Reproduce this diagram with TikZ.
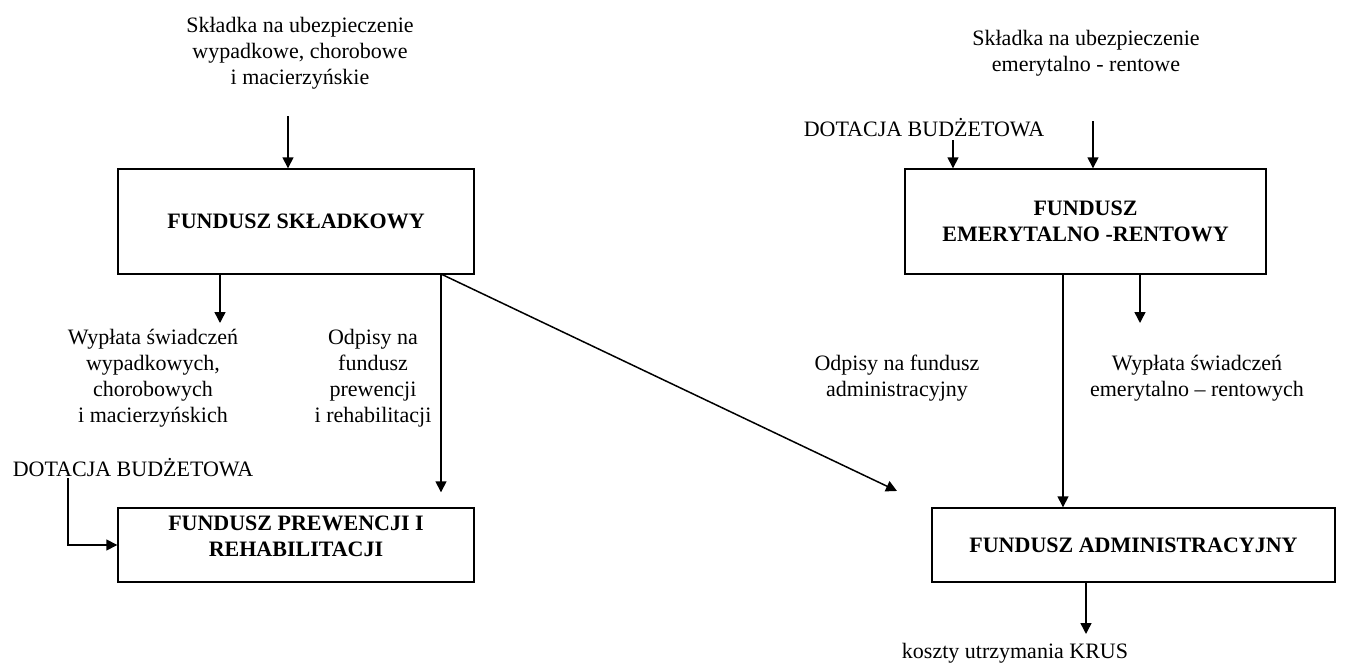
\documentclass[tikz,border=0pt]{standalone}
\usepackage{fontspec}
\setmainfont{Liberation Serif}
\usetikzlibrary{arrows.meta}

\tikzset{
    fundbox/.style={draw, line width=0.7pt, inner sep=0pt, align=center,
        font=\fontsize{11}{13}\selectfont\bfseries},
    opis/.style={inner sep=0pt, align=center, font=\fontsize{11}{13}\selectfont},
    strz/.style={line width=0.75pt, -{Triangle[length=5.5pt,width=5.5pt]}},
}

\begin{document}
\begin{tikzpicture}[x=0.5pt, y=-0.5pt]
            \useasboundingbox (0,0) rectangle (1346,664);

            \node[fundbox, minimum width=178pt, minimum height=52.5pt] (skl) at (296,221.5) {FUNDUSZ SKŁADKOWY};
            \node[fundbox, minimum width=180.5pt, minimum height=52.5pt] (emr) at (1085.5,221.5) {FUNDUSZ\\EMERYTALNO -RENTOWY};
            \node[fundbox, minimum width=178pt, minimum height=37pt,
                label={[fundbox, draw=none, anchor=north, inner sep=4pt]north:{FUNDUSZ PREWENCJI I\\REHABILITACJI}}] (prew) at (296,545) {};
            \node[fundbox, minimum width=201.5pt, minimum height=37pt] (adm) at (1133.5,545) {FUNDUSZ ADMINISTRACYJNY};

            \node[opis] (skl-in) at (300,53) {Składka na ubezpieczenie\\wypadkowe, chorobowe\\i macierzyńskie};
            \node[opis] (emr-in) at (1086,53) {Składka na ubezpieczenie\\emerytalno - rentowe};
            \node[opis] (dot-r) at (924,128) {DOTACJA BUDŻETOWA};
            \node[opis] (dot-l) at (133,468) {DOTACJA BUDŻETOWA};
            \node[opis] (wyp-l) at (153,378) {Wypłata świadczeń\\wypadkowych,\\chorobowych\\i macierzyńskich};
            \node[opis] (odp-l) at (373,378) {Odpisy na\\fundusz\\prewencji\\i rehabilitacji};
            \node[opis] (odp-r) at (897,378) {Odpisy na fundusz\\administracyjny};
            \node[opis] (wyp-r) at (1197,378) {Wypłata świadczeń\\emerytalno – rentowych};
            \node[opis] (krus) at (1015,653) {koszty utrzymania KRUS};

            \coordinate (k1) at (288,116);
            \coordinate (k2) at (220,323);
            \coordinate (k3) at (441,274);
            \coordinate (k4) at (68,478);
            \coordinate (k5) at (953,140);
            \coordinate (k6) at (1093,121);
            \coordinate (k7) at (1063,0);
            \coordinate (k8) at (1140,323);
            \coordinate (k9) at (1086,634);

            \draw[strz] (k1) -- (k1 |- skl.north);
            \draw[strz] (skl.south -| k2) -- (k2);
            \draw[strz, shorten >=7.5pt] (k3) -- (k3 |- prew.north);
            \draw[strz, shorten >=19pt] (k3) -- (adm.north west);
            \draw[strz] (k4) |- (prew.west);

            \draw[strz] (k5) -- (k5 |- emr.north);
            \draw[strz] (k6) -- (k6 |- emr.north);
            \draw[strz] (emr.south -| k7) -- (adm.north -| k7);
            \draw[strz] (emr.south -| k8) -- (k8);
            \draw[strz] (adm.south -| k9) -- (k9);
        \end{tikzpicture}
\end{document}
